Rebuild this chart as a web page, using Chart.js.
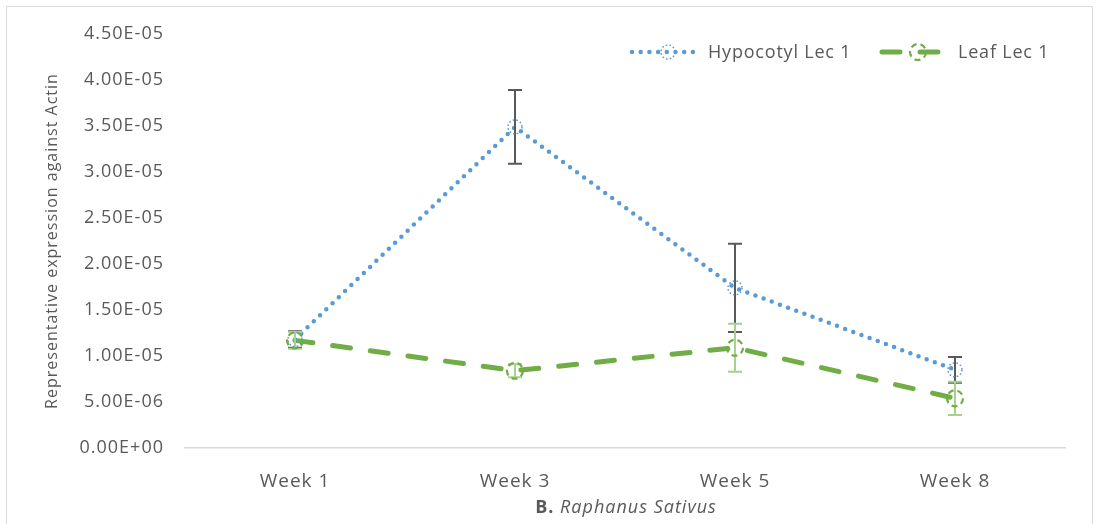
<!DOCTYPE html>
<html lang="en">
<head>
<meta charset="UTF-8">
<title>Raphanus Sativus Lec 1</title>
<script src="https://cdn.jsdelivr.net/npm/chart.js"></script>
<style>
  html, body { margin: 0; padding: 0; background: #fff; overflow: hidden; }
  #wrap { position: relative; width: 1098px; height: 524px; overflow: hidden; }
  #frame { position: absolute; left: 6px; top: 6px; width: 1087px; height: 540px; border: 1px solid #d9d9d9; box-sizing: border-box; pointer-events: none; }
  #xtitle { position: absolute; left: 0; width: 1252px; top: 494px; text-align: center; font-family: "Open Sans", sans-serif; font-size: 18px; letter-spacing: 1px; color: #595959; }
</style>
</head>
<body>
<div id="wrap">
  <canvas id="chart" width="1098" height="524"></canvas>
  <div id="frame"></div>
  <div id="xtitle"><b>B.</b> <i>Raphanus Sativus</i></div>
</div>
<script>
// categories and series values
const weeks = ["Week 1", "Week 3", "Week 5", "Week 8"];
const hypocotyl = [1.18e-5, 3.49e-5, 1.74e-5, 8.5e-6];
const hypocotylErr = [9e-7, 4.0e-6, 4.8e-6, 1.4e-6];
const leaf = [1.17e-5, 8.4e-6, 1.09e-5, 5.4e-6];
const leafErr = [9e-7, 7e-7, 2.6e-6, 1.8e-6];
const seriesNames = ["Hypocotyl Lec 1", "Leaf Lec 1"];

const BLUE = "#5B9BD5", GREEN = "#70AD47";
const TXT = "#595959";
const FONT = "'Open Sans', sans-serif";

// format like 4.50E-05
function sci(v) {
    if (Math.abs(v) < 1e-12) return "0.00E+00";
    let exp = Math.floor(Math.log10(Math.abs(v)) + 1e-9);
    let mant = v / Math.pow(10, exp);
    if (Math.round(mant * 100) >= 1000) { mant /= 10; exp += 1; }
    const sign = exp < 0 ? "-" : "+";
    return mant.toFixed(2) + "E" + sign + String(Math.abs(exp)).padStart(2, "0");
}

// marker styles per dataset
const markers = [
    { color: BLUE, r: 7, width: 1.5, dash: [1.6, 2.2] },
    { color: GREEN, r: 8, width: 2.2, dash: [6, 4] }
];
const errStyle = [
    { color: "#595959", width: 2 },
    { color: "#A9D18E", width: 2 }
];
const errors = [hypocotylErr, leafErr];

function drawMarker(ctx, x, y, m) {
    ctx.save();
    ctx.beginPath();
    ctx.setLineDash(m.dash);
    ctx.lineWidth = m.width;
    ctx.strokeStyle = m.color;
    ctx.arc(x, y, m.r, 0, Math.PI * 2);
    ctx.stroke();
    ctx.restore();
}

// error bars + markers + legend
const extras = {
    id: "extras",
    beforeUpdate(chart) {
        // the reference font is set a little wider
        chart.ctx.letterSpacing = "1px";
    },
    afterDatasetsDraw(chart) {
        const ctx = chart.ctx;
        const yScale = chart.scales.y;
        chart.data.datasets.forEach((ds, di) => {
            const meta = chart.getDatasetMeta(di);
            meta.data.forEach((pt, i) => {
                const v = ds.data[i], e = errors[di][i];
                const yTop = yScale.getPixelForValue(v + e);
                const yBot = yScale.getPixelForValue(v - e);
                ctx.save();
                ctx.strokeStyle = errStyle[di].color;
                ctx.lineWidth = errStyle[di].width;
                ctx.beginPath();
                ctx.moveTo(pt.x, yTop); ctx.lineTo(pt.x, yBot);
                ctx.moveTo(pt.x - 7, yTop); ctx.lineTo(pt.x + 7, yTop);
                ctx.moveTo(pt.x - 7, yBot); ctx.lineTo(pt.x + 7, yBot);
                ctx.stroke();
                ctx.restore();
            });
        });
        chart.data.datasets.forEach((ds, di) => {
            const meta = chart.getDatasetMeta(di);
            meta.data.forEach(pt => drawMarker(ctx, pt.x, pt.y, markers[di]));
        });
    },
    afterDraw(chart) {
        const ctx = chart.ctx;
        const area = chart.chartArea;
        const y = area.top + 18;
        const starts = [area.right - 433, area.right - 183];
        chart.data.datasets.forEach((ds, di) => {
            const x0 = starts[di];
            ctx.save();
            ctx.strokeStyle = ds.borderColor;
            ctx.lineWidth = ds.borderWidth;
            ctx.lineCap = "round";
            ctx.setLineDash(ds.borderDash);
            ctx.beginPath();
            ctx.moveTo(x0, y); ctx.lineTo(x0 + 62, y);
            ctx.stroke();
            ctx.restore();
            drawMarker(ctx, x0 + 36, y, markers[di]);
            ctx.save();
            ctx.fillStyle = TXT;
            ctx.font = "18px " + FONT;
            ctx.letterSpacing = "0.8px";
            ctx.textBaseline = "middle";
            ctx.fillText(seriesNames[di], x0 + 76, y + 1);
            ctx.restore();
        });
    }
};

new Chart(document.getElementById("chart"), {
    type: "line",
    data: {
        labels: weeks,
        datasets: [
            {
                label: seriesNames[0],
                data: hypocotyl,
                borderColor: BLUE,
                borderWidth: 4.5,
                borderDash: [0, 8.7],
                borderCapStyle: "round",
                pointRadius: 0,
                fill: false,
                tension: 0
            },
            {
                label: seriesNames[1],
                data: leaf,
                borderColor: GREEN,
                borderWidth: 5,
                borderDash: [18, 20],
                borderCapStyle: "round",
                pointRadius: 0,
                fill: false,
                tension: 0
            }
        ]
    },
    options: {
        responsive: false,
        animation: false,
        layout: { padding: { left: 0, right: 33, top: 34, bottom: 0 } },
        plugins: {
            legend: { display: false },
            tooltip: { enabled: false }
        },
        scales: {
            x: {
                offset: true,
                grid: { display: false },
                border: { color: "#d9d9d9", width: 1.5 },
                ticks: { color: TXT, font: { family: FONT, size: 19 }, padding: 14 },
                afterFit(scale) { scale.height = 76; }
            },
            y: {
                min: 0,
                max: 4.5e-5,
                grid: { display: false },
                border: { display: false },
                ticks: {
                    stepSize: 5e-6,
                    color: TXT,
                    font: { family: FONT, size: 18 },
                    padding: 13,
                    callback: v => sci(v)
                },
                title: {
                    display: true,
                    text: "Representative expression against Actin",
                    color: TXT,
                    font: { family: FONT, size: 16 },
                    padding: { top: 43, bottom: 0 }
                },
                afterFit(scale) { scale.width = 185; }
            }
        }
    },
    plugins: [extras]
});
</script>
</body>
</html>
